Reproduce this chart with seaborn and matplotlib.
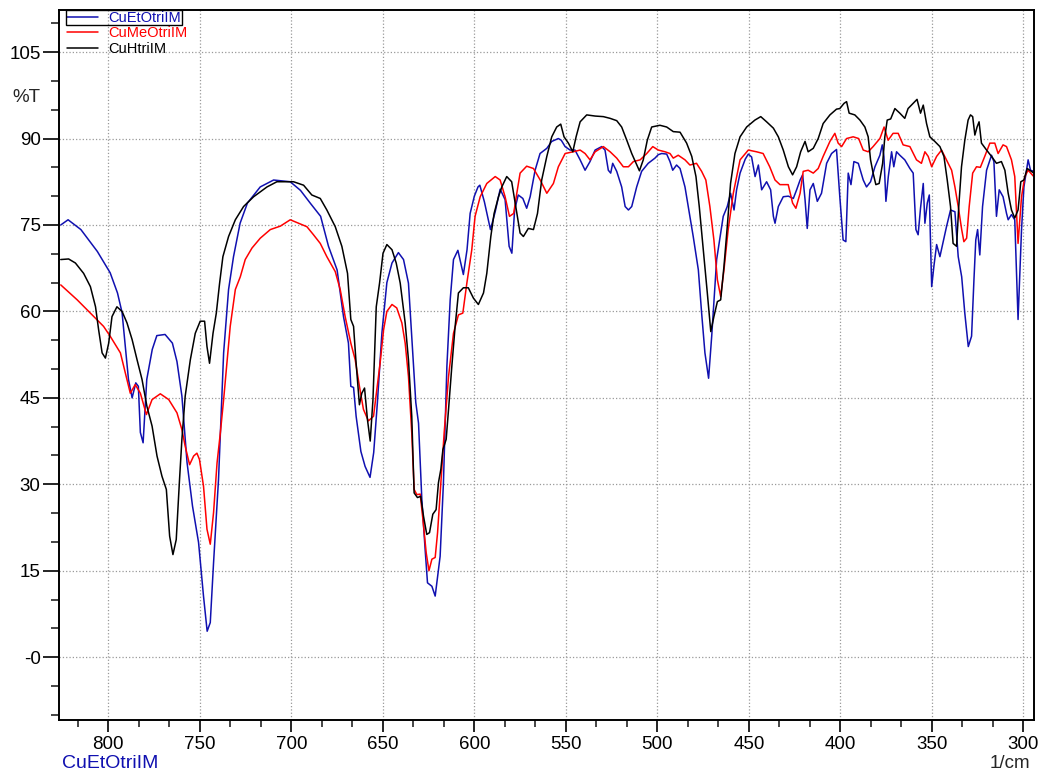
import matplotlib
matplotlib.use('Agg')
import matplotlib.pyplot as plt
import seaborn as sns
import numpy as np
import pandas as pd
from matplotlib.patches import Rectangle

# CuEtOtriIM (blue)
wn_et = [826, 822, 815, 806, 799, 795, 792.5, 790.7, 789, 787, 785, 783.6, 782.5, 781, 779, 776, 773.5, 769, 765, 762.5,
         759.8, 757, 754, 750.7, 748, 746, 744.3, 742.5, 739.8, 737, 734.3, 731.6, 728, 724, 717, 709.7, 700.6, 695, 689.7, 684,
         679.7, 675, 671.5, 668.8, 667.5, 666, 664.6, 662, 659.7, 657, 655, 653, 650.5, 647.8, 645, 641.5, 638.7, 636, 634, 632,
         630.5, 628.7, 626.9, 625.6, 623.2, 621.4, 618.7, 616.9, 615, 613.2, 611.4, 609, 606, 604, 602.3, 600, 598, 597, 594.5, 591.2,
         588.6, 585.9, 583.2, 581, 579.5, 578, 576, 573.5, 571.4, 569.5, 566.8, 564.1, 560.4, 557.7, 554.1, 552.5, 550.4, 547.7, 545, 542.2,
         539.5, 536.8, 534, 530.4, 528.6, 526.8, 525.5, 524.4, 522.2, 519.5, 517.6, 515.8, 514, 511.3, 508.6, 505, 501.3, 499.5, 497.6, 494.9,
         493.1, 491.6, 489.5, 487.6, 484.9, 483.1, 480.4, 477.6, 475.8, 474, 472, 470.3, 467.6, 464, 461.8, 460, 458.1, 456.7, 454.8, 452,
         450.3, 448.5, 446.6, 444.8, 443, 440.3, 438.1, 436.6, 435.7, 433.9, 431.2, 428.4, 425.7, 423.9, 422, 420.6, 419.3, 418.1, 416.6, 414.8,
         412.6, 410.3, 407.5, 404.8, 402.1, 400.3, 398.5, 397, 395.7, 394.2, 392.6, 390.2, 387.5, 385.7, 383.5, 381.1, 378.4, 377.1, 376.2, 375.1,
         373.8, 372, 370.8, 369.3, 367.5, 364.8, 362, 360.2, 358.7, 357.5, 356.2, 354.7, 353.8, 352.5, 351.4, 350.1, 348.9, 347.4, 345.6, 343.8,
         342, 339.8, 337.4, 335.6, 333.7, 332, 330.1, 328.3, 327, 326, 325, 323.8, 322.3, 320.1, 317.4, 316.1, 314.7, 313.2, 311.1, 309.2,
         308.3, 306.5, 304.7, 302.9, 301, 299.7, 297.4, 296.1, 294.3]
t_et = [75.0, 75.9, 74.2, 70.4, 66.7, 63.2, 59.8, 53.9, 48.2, 45.0, 47.6, 47.0, 39.0, 37.2, 48.2, 53.4, 55.8, 56.0, 54.5, 51.3,
        45.3, 33.8, 26.2, 19.9, 10.6, 4.5, 6.0, 16.4, 30.8, 52.8, 63.8, 69.5, 75.3, 78.8, 81.6, 82.8, 82.5, 81.0, 78.8, 76.5,
        71.3, 67.2, 59.1, 54.5, 47.0, 46.8, 41.8, 35.7, 33.1, 31.2, 35.5, 44.1, 56.3, 65.0, 68.4, 70.2, 69.0, 64.9, 54.6, 44.2,
        40.6, 27.4, 18.7, 12.9, 12.3, 10.6, 17.5, 30.2, 50.5, 62.0, 69.0, 70.6, 66.4, 70.7, 77.0, 80.0, 81.6, 81.9, 79.0, 74.2,
        77.3, 81.2, 79.4, 71.3, 70.1, 77.6, 80.2, 79.6, 77.9, 79.9, 84.5, 87.4, 88.3, 89.5, 90.0, 89.7, 88.6, 88.0, 88.0, 86.3,
        84.5, 86.0, 88.0, 88.6, 88.0, 84.5, 84.0, 85.7, 84.3, 81.6, 78.2, 77.6, 78.2, 81.6, 84.3, 85.7, 86.6, 87.2, 87.4, 87.3,
        86.0, 84.5, 85.4, 84.8, 81.6, 78.2, 73.0, 67.2, 59.7, 52.8, 48.4, 55.7, 69.0, 76.5, 78.2, 80.5, 77.6, 81.1, 84.0, 86.4,
        87.3, 86.8, 83.4, 85.4, 81.1, 82.5, 81.1, 76.5, 75.3, 78.2, 79.9, 80.0, 79.6, 81.1, 82.8, 83.7, 79.4, 74.4, 81.1, 82.2,
        79.1, 80.5, 85.7, 87.4, 88.1, 79.9, 72.4, 72.1, 84.0, 82.0, 86.0, 85.7, 82.8, 81.6, 82.5, 85.1, 87.1, 88.9, 86.9, 79.1,
        83.4, 87.7, 85.1, 87.7, 87.1, 86.3, 84.8, 84.0, 74.2, 73.3, 77.9, 82.2, 75.3, 78.8, 80.2, 64.3, 67.8, 71.6, 69.5, 72.1,
        74.7, 77.6, 77.3, 69.5, 66.0, 59.7, 53.9, 55.7, 65.5, 72.4, 74.2, 69.8, 78.2, 84.5, 87.1, 86.0, 76.5, 81.1, 79.9, 77.0,
        75.9, 76.8, 75.9, 58.6, 74.2, 81.6, 86.3, 84.5, 84.3]

# CuMeOtriIM (red)
wn_me = [826, 817, 809.8, 802.6, 799, 793.4, 790.7, 788, 785.3, 782.5, 779.2, 776.1, 771.6, 767, 762.5, 759.8, 758, 755.6, 753.4, 751.6,
         750.2, 748, 746.1, 744.3, 742.5, 740.6, 738.8, 737, 735.2, 733.4, 730.6, 727.9, 725.2, 721.5, 717, 711.5, 706, 700.6, 696, 691.5,
         687.9, 684.2, 680.6, 676, 673.3, 670.6, 667.5, 665.1, 662.8, 660.6, 657.9, 655.1, 653.3, 651.5, 649.6, 647.8, 645, 642.4, 639.6, 637.8,
         636, 634.2, 632.9, 631.4, 629.6, 628.1, 626.3, 624.8, 623.2, 621.4, 620.1, 618.3, 616.5, 614.1, 611.4, 608.7, 606.3, 604.1, 601.4, 599.6,
         596.8, 593.2, 588.6, 585.9, 583.2, 580.8, 578.5, 576.8, 575, 571.4, 567.7, 564, 560.4, 556.8, 554.1, 550.4, 546, 542.2, 539.5, 536.8,
         534, 529.5, 525.8, 522.2, 518.6, 515.8, 513.1, 509.4, 505.8, 502.5, 499.5, 495.8, 493.1, 491.3, 488.6, 484.9, 482.2, 478.6, 475.8, 473.5,
         471.3, 469.1, 467.2, 465.4, 463.6, 461.3, 458.5, 454.8, 450.3, 445.8, 442.2, 438.6, 435.7, 433, 428.5, 426.1, 424.3, 422, 420.3, 417.6,
         414.8, 412.1, 409.4, 405.7, 403, 401.2, 399.3, 396.6, 393, 390, 387.5, 384.8, 382.1, 378.4, 376.1, 373.9, 371.2, 368.4, 365.7, 362,
         358.4, 355.7, 353.8, 352, 350.1, 347.4, 344.7, 342, 339.2, 337.4, 335.6, 333.7, 332.5, 331, 329.6, 327.7, 325.6, 323.5, 321.1, 318.3,
         315.6, 313.8, 311.1, 309.2, 306.5, 304.7, 302.9, 301, 299.2, 297.4, 294.3]
t_me = [64.6, 62.0, 59.7, 57.4, 55.7, 52.8, 49.3, 45.8, 47.3, 45.8, 42.1, 44.7, 45.7, 44.7, 42.4, 39.5, 36.6, 33.4, 34.9, 35.4,
        34.3, 29.7, 22.2, 19.6, 25.1, 33.7, 38.9, 44.7, 51.0, 57.4, 63.8, 66.0, 69.0, 71.0, 72.7, 74.2, 74.8, 75.9, 75.3, 74.7,
        73.3, 71.8, 69.5, 66.9, 63.8, 59.1, 54.5, 51.6, 47.0, 43.0, 41.0, 41.8, 46.4, 51.0, 56.8, 60.0, 61.2, 60.6, 58.0, 54.5,
        48.7, 38.9, 29.1, 28.2, 28.3, 23.9, 18.1, 15.0, 17.0, 17.3, 21.6, 30.3, 38.9, 48.7, 56.2, 59.4, 59.7, 64.9, 70.7, 76.5,
        79.9, 82.2, 83.4, 82.8, 79.9, 76.5, 77.0, 80.5, 84.0, 85.2, 84.8, 82.8, 80.5, 82.2, 85.1, 87.4, 87.7, 88.0, 87.4, 86.3,
        87.7, 88.6, 87.7, 86.6, 85.1, 85.1, 86.0, 86.3, 87.4, 88.6, 88.0, 87.7, 87.4, 86.6, 87.1, 86.3, 85.4, 85.7, 84.3, 82.8,
        78.2, 72.4, 65.5, 62.6, 67.2, 74.2, 80.5, 86.3, 88.0, 87.7, 87.4, 85.1, 82.8, 82.0, 82.0, 78.8, 77.9, 80.5, 84.3, 84.5,
        84.0, 84.8, 86.9, 89.5, 90.9, 89.2, 88.6, 90.0, 90.3, 90.0, 88.0, 87.7, 88.6, 90.0, 92.0, 89.7, 90.9, 90.9, 88.9, 88.6,
        86.3, 85.7, 87.7, 86.9, 85.1, 86.9, 88.0, 86.3, 84.5, 81.6, 78.2, 74.2, 72.1, 72.7, 78.2, 84.0, 85.1, 85.0, 86.9, 89.2,
        89.2, 87.4, 88.9, 88.6, 86.3, 83.4, 71.8, 79.9, 83.4, 84.5, 83.4]

# CuHtriIM (black)
wn_h = [826, 821.7, 818, 813.5, 809.8, 807, 805.3, 803.4, 801.6, 799.8, 798, 795.3, 792.5, 789.8, 787, 784.3, 781.6, 778.9, 776.1, 773.4,
        770.7, 768.3, 766.5, 764.7, 762.9, 761.1, 759.8, 758, 755.2, 752.5, 749.8, 747.4, 746.1, 744.7, 742.8, 741, 739.2, 737.4, 734.3, 730.6,
        726.1, 720.6, 713.3, 707.9, 698.8, 693.3, 688.8, 684.2, 680.6, 676, 672.4, 669.3, 667.5, 666, 664.6, 662.8, 661.5, 660, 658.4, 656.9,
        655.4, 653.6, 651.8, 649.9, 647.8, 645, 642.7, 640.5, 637.8, 636, 634.2, 632.9, 631.1, 629.3, 627.8, 626, 624.5, 622.7, 620.9, 619.6,
        618.3, 617.2, 615.4, 614.1, 612.3, 610.5, 608.7, 606, 603.3, 600.5, 597.8, 595, 593.2, 591, 589.2, 586.8, 585, 582.3, 579.6, 577.7,
        575, 573.2, 570.5, 567.7, 565.5, 563.2, 560.4, 557.7, 555, 552.8, 551, 548.6, 546.2, 544.4, 542.2, 538.6, 534, 529.5, 525.8, 522.2,
        519.5, 516.7, 514, 511.6, 509.8, 507.7, 505.5, 503.1, 498.6, 494.9, 491.3, 487.6, 484, 481.2, 478.9, 477.1, 474.9, 472.7, 470.8, 469.1,
        467.2, 465.4, 463.6, 461.8, 460, 457.6, 454.8, 451.2, 446.7, 443.5, 440.3, 436.6, 433.9, 431.2, 428.4, 426.1, 423.9, 421.7, 419.3, 417.6,
        414.8, 412.1, 409.4, 405.7, 402.1, 400.3, 398, 396.6, 395.2, 392.1, 389.3, 386.6, 384.8, 383.5, 382.1, 380.6, 378.8, 376.9, 375.7, 374.4,
        372.5, 370.2, 367.5, 364.8, 363, 360.2, 358.1, 356.2, 354.7, 352.9, 351.1, 348.4, 345.6, 343.4, 341.6, 339.8, 338.4, 336.5, 335.3, 333.8,
        332, 330.2, 328.9, 327.7, 326.5, 325.3, 324.2, 322.9, 320.1, 317.4, 314.7, 312, 310.1, 308.3, 306.5, 304.7, 302.9, 301.4, 299.7, 297.9,
        296.5, 294.3]
t_h = [69.0, 69.1, 68.4, 66.6, 64.3, 60.8, 56.8, 52.8, 51.9, 54.5, 59.1, 60.8, 60.0, 58.0, 55.1, 51.6, 48.2, 43.5, 40.1, 34.9,
       31.4, 29.1, 21.0, 17.8, 20.4, 30.8, 37.8, 45.3, 51.6, 56.2, 58.3, 58.3, 53.9, 51.0, 56.2, 59.7, 64.9, 69.5, 73.0, 75.9,
       78.2, 79.9, 81.6, 82.5, 82.5, 81.9, 80.2, 79.6, 77.6, 74.7, 71.3, 66.6, 58.6, 57.4, 51.0, 43.8, 45.8, 46.7, 41.2, 37.5,
       44.7, 60.8, 64.9, 70.1, 71.6, 70.7, 68.4, 64.9, 58.0, 51.6, 41.8, 28.5, 27.7, 27.9, 24.5, 21.3, 21.6, 24.8, 25.6, 30.3,
       32.6, 36.0, 37.8, 43.0, 50.5, 57.4, 63.2, 64.1, 64.1, 62.3, 61.2, 63.2, 66.6, 73.0, 77.0, 79.9, 81.6, 83.4, 82.5, 78.8,
       73.6, 73.0, 74.4, 74.2, 77.0, 82.8, 86.9, 90.3, 92.0, 92.5, 90.3, 89.2, 87.7, 90.3, 92.9, 94.1, 93.9, 93.8, 93.5, 93.1,
       92.0, 89.7, 87.4, 85.7, 84.4, 86.3, 89.7, 92.0, 92.3, 92.0, 91.2, 91.1, 89.2, 86.9, 83.4, 78.2, 70.7, 63.2, 56.5, 59.1,
       61.7, 62.0, 67.8, 74.7, 82.2, 87.4, 90.3, 92.0, 93.2, 93.8, 92.9, 91.8, 90.3, 88.0, 85.1, 83.7, 85.1, 87.7, 89.5, 87.7,
       88.3, 90.0, 92.6, 94.1, 95.1, 95.2, 96.1, 96.4, 94.4, 94.1, 93.2, 92.0, 90.3, 86.3, 84.0, 82.0, 82.2, 85.7, 90.3, 93.2,
       93.4, 95.2, 94.4, 93.5, 95.2, 96.1, 96.8, 94.4, 95.8, 92.6, 90.3, 89.5, 88.6, 86.9, 82.8, 78.2, 71.8, 71.3, 78.2, 85.1,
       89.7, 93.2, 94.1, 93.8, 90.6, 92.0, 92.9, 89.2, 88.0, 86.9, 85.7, 86.0, 84.5, 80.5, 77.6, 76.2, 77.6, 82.5, 82.8, 84.8,
       84.5, 84.0]

names = ['CuEtOtriIM', 'CuMeOtriIM', 'CuHtriIM']
colors = ['#1010b0', '#ff0000', '#000000']

sns.set_style('ticks')
plt.rcParams['font.family'] = ['Liberation Sans', 'DejaVu Sans']

fig = plt.figure(figsize=(10.42, 7.77), dpi=100)
ax = fig.add_axes([0.0569, 0.0734, 0.9354, 0.9137])

for wn, t, name, c in zip([wn_et, wn_me, wn_h], [t_et, t_me, t_h], names, colors):
    sns.lineplot(x=wn, y=t, ax=ax, color=c, lw=1.1, label=name, sort=False, estimator=None)

ax.set_xlim(826.8, 294.2)
ax.set_ylim(-10.9, 112.3)
yt = [0, 15, 30, 45, 60, 75, 90, 105]
ax.set_yticks(yt)
ax.set_yticklabels(['-0'] + [str(v) for v in yt[1:]])
ax.set_yticks(np.arange(-10, 112, 5), minor=True)
ax.set_xticks([800, 750, 700, 650, 600, 550, 500, 450, 400, 350, 300])
ax.set_xticks(np.arange(300, 827, 50 / 3), minor=True)
ax.tick_params(axis='both', which='major', labelsize=13.5, colors='black', width=1.2, direction='out')
ax.tick_params(axis='y', which='major', length=11.5, pad=2)
ax.tick_params(axis='y', which='minor', length=6, width=1.2)
ax.tick_params(axis='x', which='major', length=8.5, pad=3)
ax.tick_params(axis='x', which='minor', length=5, width=1.2)
ax.grid(True, which='major', linestyle=':', color='#999999', lw=0.9)
for s in ax.spines.values():
    s.set_color('black')
    s.set_linewidth(1.4)
ax.set_xlabel('')
ax.set_ylabel('')

leg = ax.legend(loc='upper left', bbox_to_anchor=(0.008, 0.999), frameon=False, fontsize=10.5,
                handlelength=2.1, handletextpad=0.75, labelspacing=0.12, borderpad=0, borderaxespad=0,
                labelcolor='linecolor')
for h in leg.get_lines():
    h.set_linewidth(1.1)

fig.text(12 / 1042, 1 - 97 / 777, '%T', fontsize=13.5, va='center', ha='left')
fig.text(62 / 1042, 1 - 764 / 777, 'CuEtOtriIM', fontsize=14, color=colors[0], va='center', ha='left')
fig.text(1030 / 1042, 1 - 764 / 777, '1/cm', fontsize=13.5, va='center', ha='right')

# box around the active spectrum entry
fig.canvas.draw()
r = fig.canvas.get_renderer()
bb_t = leg.get_texts()[0].get_window_extent(r)
bb_h = leg.get_lines()[0].get_window_extent(r)
x0 = bb_h.x0 - 1
x1 = bb_t.x1 + 1
y0 = bb_t.y0
y1 = bb_t.y1 + 1
fig.patches.append(Rectangle((x0, y0), x1 - x0, y1 - y0, transform=None, fill=False,
                             edgecolor='black', lw=1.0))

fig.savefig('out.png', dpi=100)
